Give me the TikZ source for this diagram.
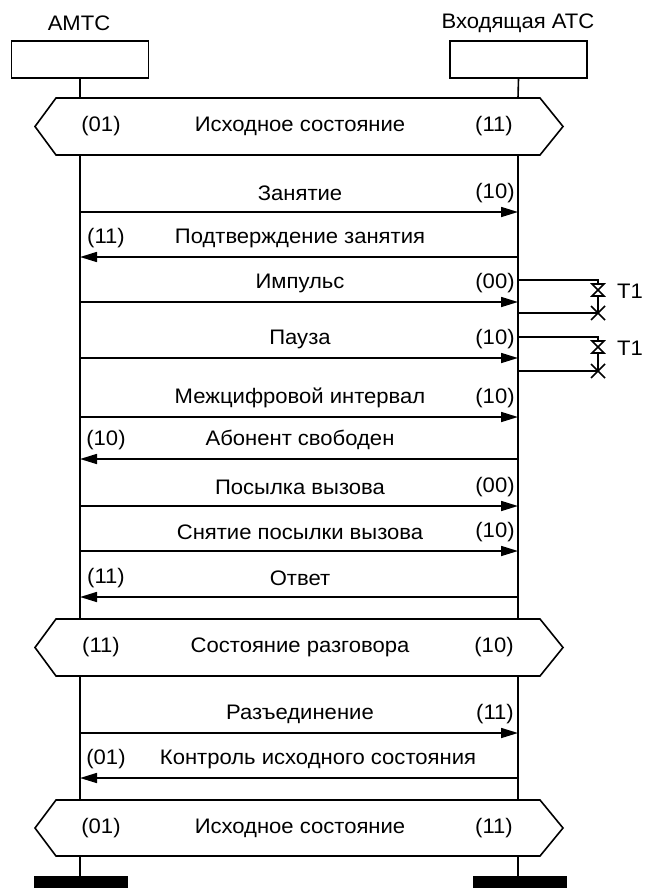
\documentclass[tikz,border=0pt]{standalone}
\usepackage{fontspec}
\setmainfont{Liberation Sans}[FakeStretch=1.05]
\usetikzlibrary{arrows.meta}
\begin{document}
\begin{tikzpicture}[x=1pt,y=-1pt,
  ln/.style={line width=1.6pt},
  lbl/.style={font=\fontsize{21}{25}\selectfont, inner sep=0pt},
  msg/.style={line width=1.6pt, -{Triangle[length=17pt,width=10pt]}},
  head/.style={draw, line width=1.8pt, minimum width=137pt, minimum height=37pt, inner sep=0pt},
  hexa/.style={line width=1.6pt},
  bar/.style={fill=black}]
\useasboundingbox (0,0) rectangle (645,888);
% headers
\node[lbl] (tA) at (79,23) {АМТС};
\node[lbl] (tB) at (518,23) {Входящая АТС};
\node[head] (boxA) at (80,59.5) {};
\node[head] (boxB) at (518.5,59.5) {};
% lifeline coordinates
\foreach \n/\y in {1/98,2/155,3/619,4/676,5/800,6/856,7/876}{
  \coordinate (a\n) at (80,\y);
  \coordinate (b\n) at (518,\y);
}
\draw[ln] (boxA.south) -- (a1) (a2) -- (a3) (a4) -- (a5) (a6) -- (a7);
\draw[ln] (boxB.south) -- (b1) (b2) -- (b3) (b4) -- (b5) (b6) -- (b7);
% hexagons
\foreach \t/\m/\bo/\L/\C/\R in {98/126.5/155/(01)/Исходное состояние/(11),
                                 619/647.5/676/(11)/Состояние разговора/(10),
                                 800/828/856/(01)/Исходное состояние/(11)}{
  \draw[hexa] (35,\m) -- (56,\t) -- (540,\t) -- (563,\m) -- (540,\bo) -- (56,\bo) -- cycle;
  \node[lbl] at (101,\m) {\L};
  \node[lbl] at (300,\m) {\C};
  \node[lbl] at (494,\m) {\R};
}
% messages
\foreach \i/\y in {1/212,2/257,3/302,4/358,5/417,6/459,7/506,8/551,9/597,10/733,11/778}{
  \coordinate (L\i) at (80,\y);
  \coordinate (R\i) at (518,\y);
}
\draw[msg] (L1) -- (R1);
\node[lbl] (m1) at (300,193) {Занятие};
\node[lbl] (n1) at (495,193) {(10)};
\draw[msg] (R2) -- (L2);
\node[lbl] (m2) at (300,238) {Подтверждение занятия};
\node[lbl] (n2) at (106,238) {(11)};
\draw[msg] (L3) -- (R3);
\node[lbl] (m3) at (300,283) {Импульс};
\node[lbl] (n3) at (495,283) {(00)};
\draw[msg] (L4) -- (R4);
\node[lbl] (m4) at (300,339) {Пауза};
\node[lbl] (n4) at (495,339) {(10)};
\draw[msg] (L5) -- (R5);
\node[lbl] (m5) at (300,398) {Межцифровой интервал};
\node[lbl] (n5) at (495,398) {(10)};
\draw[msg] (R6) -- (L6);
\node[lbl] (m6) at (300,440) {Абонент свободен};
\node[lbl] (n6) at (106,440) {(10)};
\draw[msg] (L7) -- (R7);
\node[lbl] (m7) at (300,487) {Посылка вызова};
\node[lbl] (n7) at (495,487) {(00)};
\draw[msg] (L8) -- (R8);
\node[lbl] (m8) at (300,532) {Снятие посылки вызова};
\node[lbl] (n8) at (495,532) {(10)};
\draw[msg] (R9) -- (L9);
\node[lbl] (m9) at (300,578) {Ответ};
\node[lbl] (n9) at (106,578) {(11)};
\draw[msg] (L10) -- (R10);
\node[lbl] (m10) at (300,714) {Разъединение};
\node[lbl] (n10) at (495,714) {(11)};
\draw[msg] (R11) -- (L11);
\node[lbl] (m11) at (318,759) {Контроль исходного состояния};
\node[lbl] (n11) at (106,759) {(01)};
% timers
\foreach \k/\top/\bot in {1/280/313,2/337/371}{
  \coordinate (s\k) at (518,\top);
  \coordinate (c\k) at (598,\top);
  \coordinate (e\k) at (518,\bot);
  \coordinate (x\k) at (598,\bot);
  \draw[ln] (s\k) -- (c\k) -- ++(0,4);
  \draw[ln, fill=white] ([shift={(-6,4)}]c\k) -- ([shift={(6,4)}]c\k) -- ([shift={(-6,16)}]c\k) -- ([shift={(6,16)}]c\k) -- cycle;
  \draw[ln] ([shift={(0,16)}]c\k) -- (x\k);
  \draw[ln] (e\k) -- (x\k);
  \draw[ln] ([shift={(-7,-7)}]x\k) -- ([shift={(7,7)}]x\k) ([shift={(-7,7)}]x\k) -- ([shift={(7,-7)}]x\k);
  \node[lbl, anchor=west] (T\k) at (617,\top+11) {T1};
}
% bars
\fill[bar] (34,876) rectangle (128,888);
\fill[bar] (473,876) rectangle (567,888);
\end{tikzpicture}
\end{document}
